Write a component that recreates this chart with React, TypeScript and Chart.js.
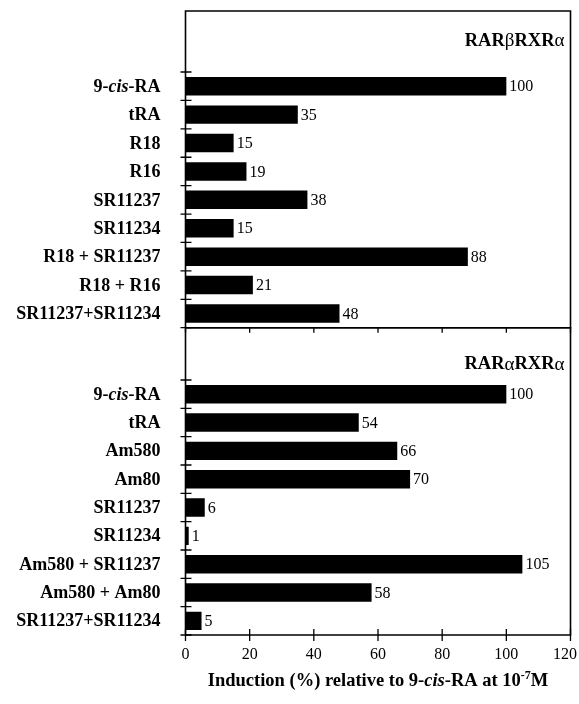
import React, { useEffect, useRef } from 'react';
import { Chart, registerables } from 'chart.js';

Chart.register(...registerables);

const TOP_LABELS = ['9-cis-RA', 'tRA', 'R18', 'R16', 'SR11237', 'SR11234', 'R18 + SR11237', 'R18 + R16', 'SR11237+SR11234'];
const TOP_VALUES = [100, 35, 15, 19, 38, 15, 88, 21, 48];
const BOTTOM_LABELS = ['9-cis-RA', 'tRA', 'Am580', 'Am80', 'SR11237', 'SR11234', 'Am580 + SR11237', 'Am580 + Am80', 'SR11237+SR11234'];
const BOTTOM_VALUES = [100, 54, 66, 70, 6, 1, 105, 58, 5];
const X_TICKS = [0, 20, 40, 60, 80, 100, 120];
const TOP_TITLE = 'RARβRXRα';
const BOTTOM_TITLE = 'RARαRXRα';

const FAM = '"Liberation Serif", "Times New Roman", serif';
const W = 579;
const H = 704;

type Seg = { text: string; font: string; dy?: number };

function drawSegs(ctx: CanvasRenderingContext2D, segs: Seg[], x: number, y: number, align: 'left' | 'right' | 'center') {
  let total = 0;
  const widths = segs.map((s) => {
    ctx.font = s.font;
    const w = ctx.measureText(s.text).width;
    total += w;
    return w;
  });
  let cx = align === 'left' ? x : align === 'right' ? x - total : x - total / 2;
  ctx.textAlign = 'left';
  segs.forEach((s, i) => {
    ctx.font = s.font;
    ctx.fillText(s.text, cx, y + (s.dy || 0));
    cx += widths[i];
  });
}

function labelSegs(label: string): Seg[] {
  const bold = `bold 18px ${FAM}`;
  const boldIt = `italic bold 18px ${FAM}`;
  return label.split(/(cis)/).filter((t) => t.length > 0).map((t) => ({ text: t, font: t === 'cis' ? boldIt : bold }));
}

function titleSegs(title: string): Seg[] {
  const bold = `bold 18.5px ${FAM}`;
  const greek = `19px ${FAM}`;
  return title.split(/([α-ωΑ-Ω])/).filter((t) => t.length > 0).map((t) => ({ text: t, font: /[α-ωΑ-Ω]/.test(t) ? greek : bold }));
}

const panelPlugin = {
  id: 'panelDeco',
  afterDraw(chart: any, _args: any, opts: any) {
    const { ctx, chartArea: a, scales } = chart;
    const xs = scales.x;
    const ys = scales.y;
    const labels: string[] = chart.data.labels;
    const values: number[] = chart.data.datasets[0].data;
    ctx.save();
    ctx.strokeStyle = '#000';
    ctx.fillStyle = '#000';
    ctx.lineWidth = 1.6;
    const top = a.top - opts.extraTop;
    ctx.beginPath();
    ctx.moveTo(a.left, a.bottom);
    ctx.lineTo(a.left, top);
    ctx.lineTo(a.right, top);
    ctx.lineTo(a.right, a.bottom);
    ctx.lineTo(a.left, a.bottom);
    ctx.stroke();

    ctx.lineWidth = 1.3;
    ctx.beginPath();
    for (let i = 0; i <= labels.length; i++) {
      const py = ys.getPixelForValue(i - 0.5);
      ctx.moveTo(a.left - 5, py);
      ctx.lineTo(a.left + 6, py);
    }
    X_TICKS.forEach((v) => {
      const px = xs.getPixelForValue(v);
      ctx.moveTo(px, a.bottom + opts.tickFrom);
      ctx.lineTo(px, a.bottom + opts.tickTo);
    });
    ctx.stroke();

    ctx.textBaseline = 'middle';
    labels.forEach((lab, i) => {
      const py = ys.getPixelForValue(i);
      drawSegs(ctx, labelSegs(lab), a.left - 25, py + 1, 'right');
      const vx = xs.getPixelForValue(values[i]) + 3;
      drawSegs(ctx, [{ text: String(values[i]), font: `16px ${FAM}` }], vx, py + 1, 'left');
    });

    drawSegs(ctx, titleSegs(opts.title), a.right - 6, top + opts.titleDy, 'right');

    if (opts.showAxis) {
      ctx.textBaseline = 'middle';
      ctx.font = `16px ${FAM}`;
      X_TICKS.forEach((v) => {
        const t = String(v);
        const w = ctx.measureText(t).width;
        let px = xs.getPixelForValue(v);
        if (px + w / 2 > W - 2) px = W - 2 - w / 2;
        drawSegs(ctx, [{ text: t, font: `16px ${FAM}` }], px, a.bottom + 20, 'center');
      });
      ctx.textBaseline = 'alphabetic';
      const b = `bold 18.5px ${FAM}`;
      drawSegs(
        ctx,
        [
          { text: 'Induction (%) relative to 9-', font: b },
          { text: 'cis', font: `italic bold 18.5px ${FAM}` },
          { text: '-RA at 10', font: b },
          { text: '-7', font: `bold 12px ${FAM}`, dy: -7 },
          { text: 'M', font: b },
        ],
        (a.left + a.right) / 2,
        a.bottom + 51,
        'center'
      );
    }
    ctx.restore();
  },
};

function makeConfig(labels: string[], values: number[], padding: any, deco: any): any {
  return {
    type: 'bar',
    data: {
      labels,
      datasets: [
        {
          data: values,
          backgroundColor: '#000',
          borderWidth: 0,
          barPercentage: 0.65,
          categoryPercentage: 1,
        },
      ],
    },
    options: {
      indexAxis: 'y',
      responsive: false,
      animation: false,
      devicePixelRatio: 1,
      layout: { padding },
      scales: {
        x: { type: 'linear', min: 0, max: 120, display: false },
        y: { type: 'category', display: false },
      },
      plugins: {
        legend: { display: false },
        tooltip: { enabled: false },
        panelDeco: deco,
      },
    },
    plugins: [panelPlugin],
  };
}

export default function App() {
  const topRef = useRef<HTMLCanvasElement>(null);
  const botRef = useRef<HTMLCanvasElement>(null);
  useEffect(() => {
    const c1 = new Chart(
      topRef.current as HTMLCanvasElement,
      makeConfig(TOP_LABELS, TOP_VALUES, { left: 185.5, right: 8.5, top: 72, bottom: H - 327.7 }, {
        extraTop: 61,
        tickFrom: 0,
        tickTo: 5,
        title: TOP_TITLE,
        titleDy: 30,
        showAxis: false,
      })
    );
    const c2 = new Chart(
      botRef.current as HTMLCanvasElement,
      makeConfig(BOTTOM_LABELS, BOTTOM_VALUES, { left: 185.5, right: 8.5, top: 380, bottom: H - 635 }, {
        extraTop: 52.3,
        tickFrom: -6,
        tickTo: 6,
        title: BOTTOM_TITLE,
        titleDy: 37,
        showAxis: true,
      })
    );
    return () => {
      c1.destroy();
      c2.destroy();
    };
  }, []);
  const cs: React.CSSProperties = { position: 'absolute', left: 0, top: 0, width: W, height: H };
  return (
    <div style={{ position: 'absolute', left: 0, top: 0, width: W, height: H, background: '#fff' }}>
      <canvas ref={topRef} width={W} height={H} style={cs} />
      <canvas ref={botRef} width={W} height={H} style={cs} />
    </div>
  );
}
